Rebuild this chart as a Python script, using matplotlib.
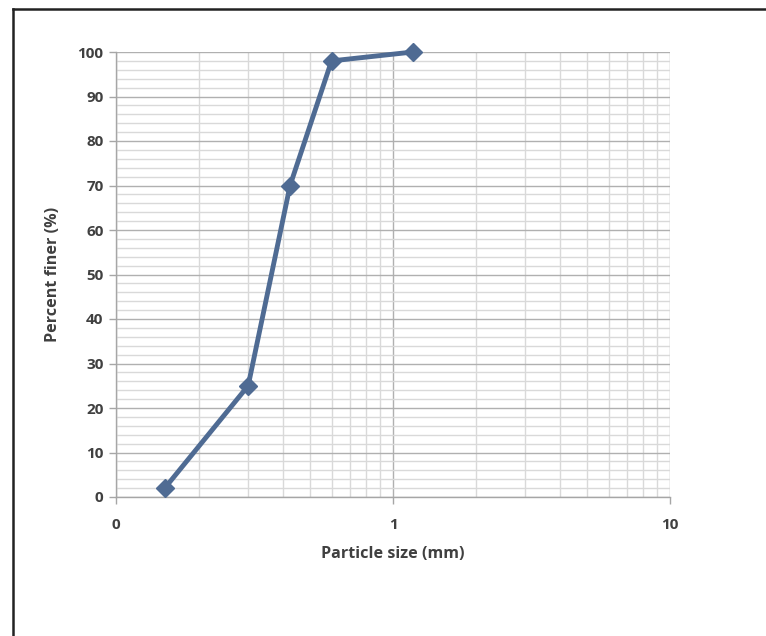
import matplotlib
matplotlib.use("Agg")
import matplotlib.pyplot as plt
from matplotlib.lines import Line2D
from matplotlib.ticker import FixedLocator, FixedFormatter, MultipleLocator

plt.rcParams['font.family'] = ['Open Sans', 'DejaVu Sans']

# Sieve analysis results
particle_size_mm = [0.15, 0.3, 0.425, 0.6, 1.18]
percent_finer = [2, 25, 70, 98, 100]

x_ticks = [0.1, 1, 10]
x_tick_labels = ["0", "1", "10"]
y_ticks = list(range(0, 101, 10))

text_color = "#404040"
line_color = "#4f6b93"

fig = plt.figure(figsize=(7.66, 6.36), dpi=100)
ax = fig.add_axes([116 / 766, 1 - 497 / 636, 554 / 766, 445 / 636])

ax.set_xscale("log")
ax.set_xlim(0.1, 10)
ax.set_ylim(0, 100)

# gridlines: minor every 2 % and at 2..9 within each decade, major at the decades and tens
minor_x = [m * d for d in (0.1, 1) for m in range(2, 10)]
ax.xaxis.set_minor_locator(FixedLocator(minor_x))
ax.yaxis.set_minor_locator(MultipleLocator(2))
ax.grid(which="minor", color="#d9d9d9", linewidth=1.0)
ax.grid(which="major", color="#b0b0b0", linewidth=1.0)
ax.set_axisbelow(True)

ax.xaxis.set_major_locator(FixedLocator(x_ticks))
ax.xaxis.set_major_formatter(FixedFormatter(x_tick_labels))
ax.set_yticks(y_ticks)

for side in ("top", "right"):
    ax.spines[side].set_visible(False)
for side in ("left", "bottom"):
    ax.spines[side].set_color("#a6a6a6")
    ax.spines[side].set_linewidth(1.0)

ax.tick_params(which="major", length=5, width=1.0, color="#a6a6a6",
               labelcolor=text_color, labelsize=11, pad=4)
ax.tick_params(which="minor", length=0)
for lbl in ax.get_xticklabels() + ax.get_yticklabels():
    lbl.set_fontweight("bold")
ax.tick_params(axis="x", pad=10)

ax.plot(particle_size_mm, percent_finer, color=line_color, linewidth=3.5,
        marker="D", markersize=9, markerfacecolor=line_color,
        markeredgecolor=line_color, clip_on=False, zorder=3)

ax.set_xlabel("Particle size (mm)", fontsize=11.6, fontweight="bold",
              color=text_color, labelpad=10)
ax.set_ylabel("Percent finer (%)", fontsize=11.6, fontweight="bold",
              color=text_color, labelpad=12)

# outer frame of the chart area
fx = 12.5 / 766
fy = 1 - 8.5 / 636
fig.add_artist(Line2D([fx, fx], [0, fy], color="#222222", linewidth=1.8,
                      transform=fig.transFigure))
fig.add_artist(Line2D([fx, 1], [fy, fy], color="#222222", linewidth=1.8,
                      transform=fig.transFigure))

fig.savefig("out.png", dpi=100)
